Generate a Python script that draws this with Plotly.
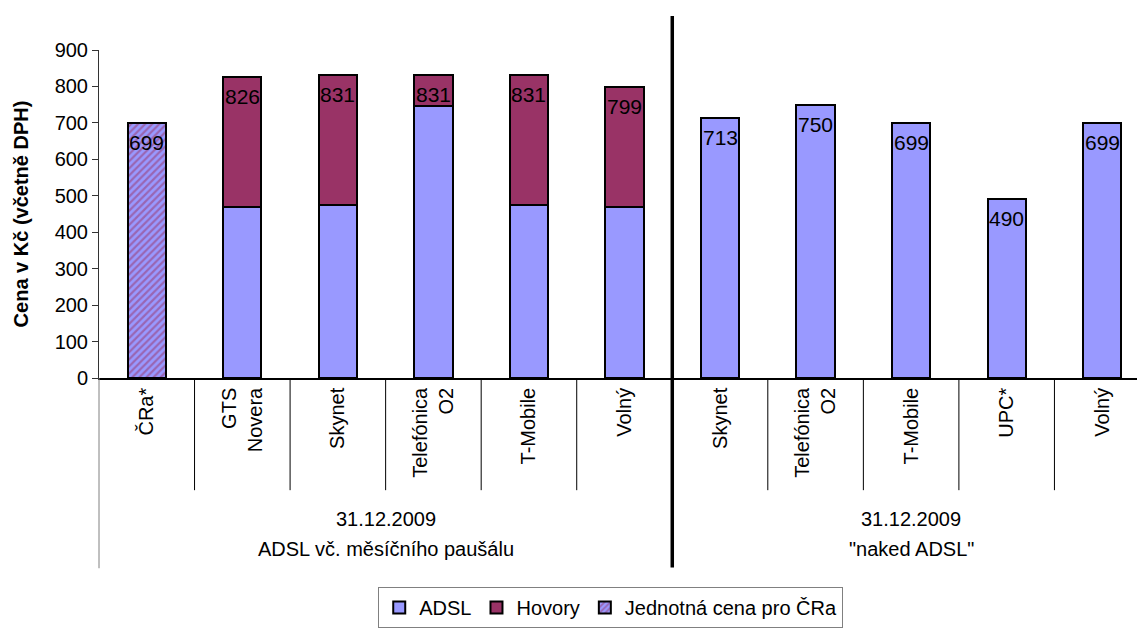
import plotly.graph_objects as go

# ---- data ----
cat_labels = ["ČRa*", "GTS<br>Novera", "Skynet", "Telefónica<br>O2", "T-Mobile", "Volný",
              "Skynet", "Telefónica<br>O2", "T-Mobile", "UPC*", "Volný"]
positions = list(range(len(cat_labels)))
adsl = [None, 470, 475, 745, 475, 470, 713, 750, 699, 490, 699]
hovory = [None, 356, 356, 86, 356, 329, None, None, None, None, None]
cra = [699, None, None, None, None, None, None, None, None, None, None]
totals = [699, 826, 831, 831, 831, 799, 713, 750, 699, 490, 699]
group_top = ["31.12.2009", "31.12.2009"]
group_bottom = ["ADSL vč. měsíčního paušálu", "\"naked ADSL\""]
group_centers = [2.5, 8.0]
y_ticks = [0, 100, 200, 300, 400, 500, 600, 700, 800, 900]

FONT = "Arial, Liberation Sans, sans-serif"
C_ADSL = "#9999FF"
C_HOV = "#993366"

fig = go.Figure()
fig.add_trace(go.Bar(x=positions, y=adsl, name="ADSL", width=0.4,
                     marker=dict(color=C_ADSL, line=dict(color="black", width=2))))
fig.add_trace(go.Bar(x=positions, y=hovory, name="Hovory", width=0.4,
                     marker=dict(color=C_HOV, line=dict(color="black", width=2))))
fig.add_trace(go.Bar(x=positions, y=cra, name="Jednotná cena pro ČRa", width=0.4,
                     marker=dict(color=C_ADSL,
                                 pattern=dict(shape="/", bgcolor=C_ADSL, fgcolor=C_HOV,
                                              size=5, solidity=0.45, fillmode="overlay"),
                                 line=dict(color="black", width=2))))

annotations = []
for xp, t in zip(positions, totals):
    annotations.append(dict(x=xp, xref="x", y=t, yref="y", text=str(t), showarrow=False,
                            yanchor="top", yshift=-6,
                            font=dict(family=FONT, size=21, color="black")))
for xc, t1, t2 in zip(group_centers, group_top, group_bottom):
    annotations.append(dict(x=xc, xref="x", y=-0.43, yref="paper", text=t1, showarrow=False,
                            font=dict(family=FONT, size=20, color="black"), yanchor="middle"))
    annotations.append(dict(x=xc, xref="x", y=-0.522, yref="paper", text=t2, showarrow=False,
                            font=dict(family=FONT, size=20, color="black"), yanchor="middle"))

shapes = []
# dividers between categories
for b in [0.5, 1.5, 2.5, 3.5, 4.5, 6.5, 7.5, 8.5, 9.5]:
    shapes.append(dict(type="line", xref="x", yref="paper", x0=b, x1=b, y0=0, y1=-0.342,
                       line=dict(color="black", width=1)))
# left border of category area
shapes.append(dict(type="line", xref="paper", yref="paper", x0=0, x1=0, y0=0, y1=-0.58,
                   line=dict(color="#808080", width=1)))
# thick group separator
shapes.append(dict(type="line", xref="x", yref="paper", x0=5.5, x1=5.5, y0=1.104, y1=-0.578,
                   line=dict(color="black", width=3.5)))

fig.update_layout(
    width=1137, height=630,
    margin=dict(l=99, r=0, t=50, b=252, autoexpand=False),
    barmode="stack",
    plot_bgcolor="white", paper_bgcolor="white",
    font=dict(family=FONT, size=20, color="black"),
    shapes=shapes, annotations=annotations,
    legend=dict(orientation="h", x=0.493, xanchor="center", y=-0.70, yanchor="middle",
                bordercolor="#808080", borderwidth=1, traceorder="normal",
                font=dict(family=FONT, size=20, color="black"),
                itemwidth=30, tracegroupgap=0),
    xaxis=dict(range=[-0.5, 10.364], tickmode="array", tickvals=positions, ticktext=cat_labels,
               tickangle=-90, ticks="", showline=True, linecolor="black", linewidth=1.5,
               showgrid=False, zeroline=False, fixedrange=True, automargin=False,
               tickfont=dict(family=FONT, size=20, color="black")),
    yaxis=dict(range=[0, 900], tickmode="array", tickvals=y_ticks, ticks="outside", ticklen=6,
               tickcolor="#333", showline=True, linecolor="#333", linewidth=1, showgrid=False,
               zeroline=False, automargin=False,
               tickfont=dict(family=FONT, size=20, color="black"),
               title=dict(text="<b>Cena v Kč (včetně DPH)</b>", standoff=20,
                          font=dict(family=FONT, size=20, color="black"))),
)

fig.write_html("out.html", config={"displayModeBar": False},
               post_script="document.body.style.margin='0px';")
